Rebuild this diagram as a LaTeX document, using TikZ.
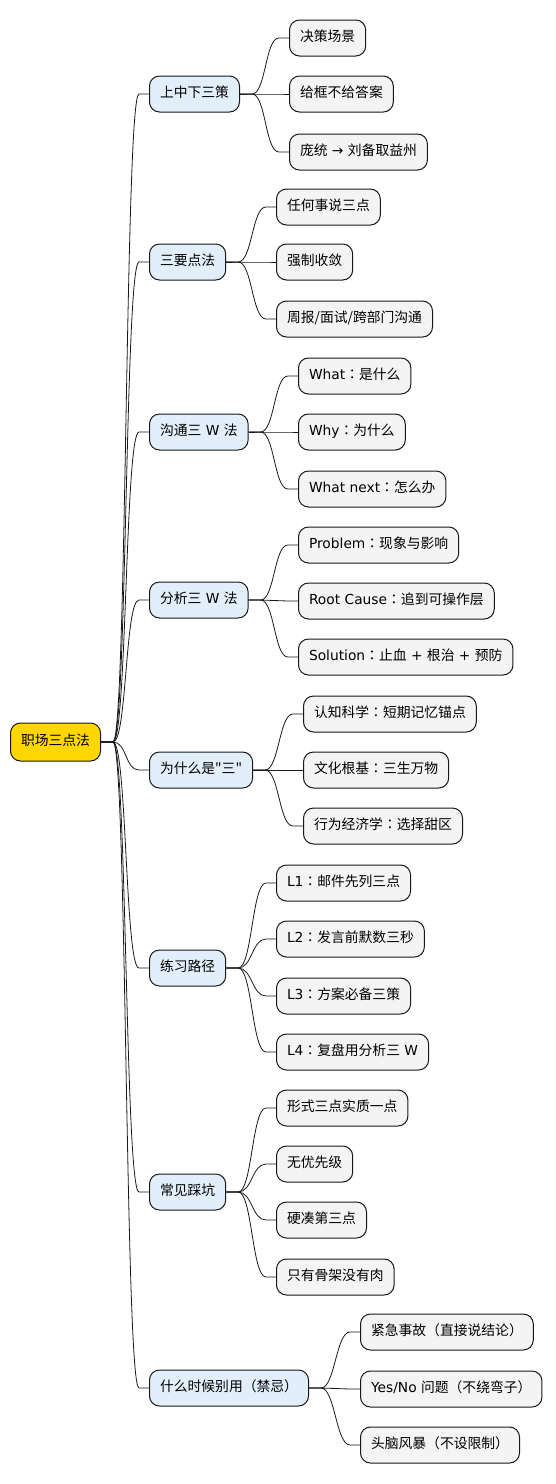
\documentclass[tikz,border=0pt]{standalone}
\usepackage{fontspec}
\setmainfont{DejaVu Sans}
\newfontfamily\cjk{Noto Sans CJK SC}
\newfontfamily\cjktc{Noto Sans CJK TC}
\newcommand\cln{{\cjktc ：}}
\usetikzlibrary{calc}
\definecolor{rootfill}{HTML}{FFD700}
\definecolor{lonefill}{HTML}{E2EFFB}
\definecolor{ltwofill}{HTML}{F4F4F4}
\definecolor{strokec}{HTML}{181818}
\tikzset{
  mmbox/.style={draw=strokec, line width=1pt, rounded corners=10pt, minimum height=36pt,
    inner xsep=10.5pt, inner ysep=0pt, anchor=west, font=\fontsize{13.8}{16}\selectfont, text height=10pt, text depth=3pt},
  mroot/.style={mmbox, fill=rootfill, minimum height=38pt},
  mone/.style={mmbox, fill=lonefill},
  mtwo/.style={mmbox, fill=ltwofill},
  edge/.style={draw=strokec, line width=0.8pt}
}
\newcommand\lnk[2]{\draw[edge] (#1.east) -- ++(12,0) .. controls +(14,0) and +(-14,0) .. ($(#2.west)+(-10,0)$) -- (#2.west);}
\begin{document}
\begin{tikzpicture}[x=1pt,y=-1pt]
\useasboundingbox (0,0) rectangle (555,1484);
\node[mroot] (root) at (10,742) {\cjk 职场三点法};
% level 1
\node[mone] (a) at (149,94) {\cjk 上中下三策};
\node[mone] (b) at (149,262) {\cjk 三要点法};
\node[mone] (c) at (149,432) {{\cjk 沟通三} W {\cjk 法}};
\node[mone] (d) at (149,600) {{\cjk 分析三} W {\cjk 法}};
\node[mone] (e) at (149,770) {\cjk 为什么是"三"};
\node[mone] (f) at (149,968) {\cjk 练习路径};
\node[mone] (g) at (149,1192) {\cjk 常见踩坑};
\node[mone] (h) at (149,1388) {{\cjk 什么时候别用}{\cjktc （}{\cjk 禁忌}{\cjktc ）}};
% level 2
\node[mtwo] (a1) at (289,38) {\cjk 决策场景};
\node[mtwo] (a2) at (289,94) {\cjk 给框不给答案};
\node[mtwo] (a3) at (289,152) {{\cjk 庞统} → {\cjk 刘备取益州}};
\node[mtwo] (b1) at (276,207) {\cjk 任何事说三点};
\node[mtwo] (b2) at (276,262) {\cjk 强制收敛};
\node[mtwo] (b3) at (276,319) {\cjk 周报/面试/跨部门沟通};
\node[mtwo] (c1) at (298,376) {What\cln{\cjk 是什么}};
\node[mtwo] (c2) at (298,432) {Why\cln{\cjk 为什么}};
\node[mtwo] (c3) at (298,489) {What next\cln{\cjk 怎么办}};
\node[mtwo] (d1) at (298,545) {Problem\cln{\cjk 现象与影响}};
\node[mtwo] (d2) at (298,601) {Root Cause\cln{\cjk 追到可操作层}};
\node[mtwo] (d3) at (298,657) {Solution\cln{\cjk 止血} + {\cjk 根治} + {\cjk 预防}};
\node[mtwo] (e1) at (303,714) {{\cjk 认知科学}\cln{\cjk 短期记忆锚点}};
\node[mtwo] (e2) at (303,770) {{\cjk 文化根基}\cln{\cjk 三生万物}};
\node[mtwo] (e3) at (303,826) {{\cjk 行为经济学}\cln{\cjk 选择甜区}};
\node[mtwo] (f1) at (276,883) {L1\cln{\cjk 邮件先列三点}};
\node[mtwo] (f2) at (276,939) {L2\cln{\cjk 发言前默数三秒}};
\node[mtwo] (f3) at (276,996) {L3\cln{\cjk 方案必备三策}};
\node[mtwo] (f4) at (276,1052) {L4\cln{\cjk 复盘用分析三} W};
\node[mtwo] (g1) at (276,1108) {\cjk 形式三点实质一点};
\node[mtwo] (g2) at (276,1164) {\cjk 无优先级};
\node[mtwo] (g3) at (276,1220) {\cjk 硬凑第三点};
\node[mtwo] (g4) at (276,1277) {\cjk 只有骨架没有肉};
\node[mtwo] (h1) at (360,1332) {{\cjk 紧急事故}{\cjktc （}{\cjk 直接说结论}{\cjktc ）}};
\node[mtwo] (h2) at (360,1389) {Yes/No {\cjk 问题}{\cjktc （}{\cjk 不绕弯子}{\cjktc ）}};
\node[mtwo] (h3) at (360,1445) {{\cjk 头脑风暴}{\cjktc （}{\cjk 不设限制}{\cjktc ）}};
% connectors
\foreach \c in {a,b,c,d,e,f,g,h}{\lnk{root}{\c}}
\foreach \c in {a1,a2,a3}{\lnk{a}{\c}}
\foreach \c in {b1,b2,b3}{\lnk{b}{\c}}
\foreach \c in {c1,c2,c3}{\lnk{c}{\c}}
\foreach \c in {d1,d2,d3}{\lnk{d}{\c}}
\foreach \c in {e1,e2,e3}{\lnk{e}{\c}}
\foreach \c in {f1,f2,f3,f4}{\lnk{f}{\c}}
\foreach \c in {g1,g2,g3,g4}{\lnk{g}{\c}}
\foreach \c in {h1,h2,h3}{\lnk{h}{\c}}
\end{tikzpicture}
\end{document}
